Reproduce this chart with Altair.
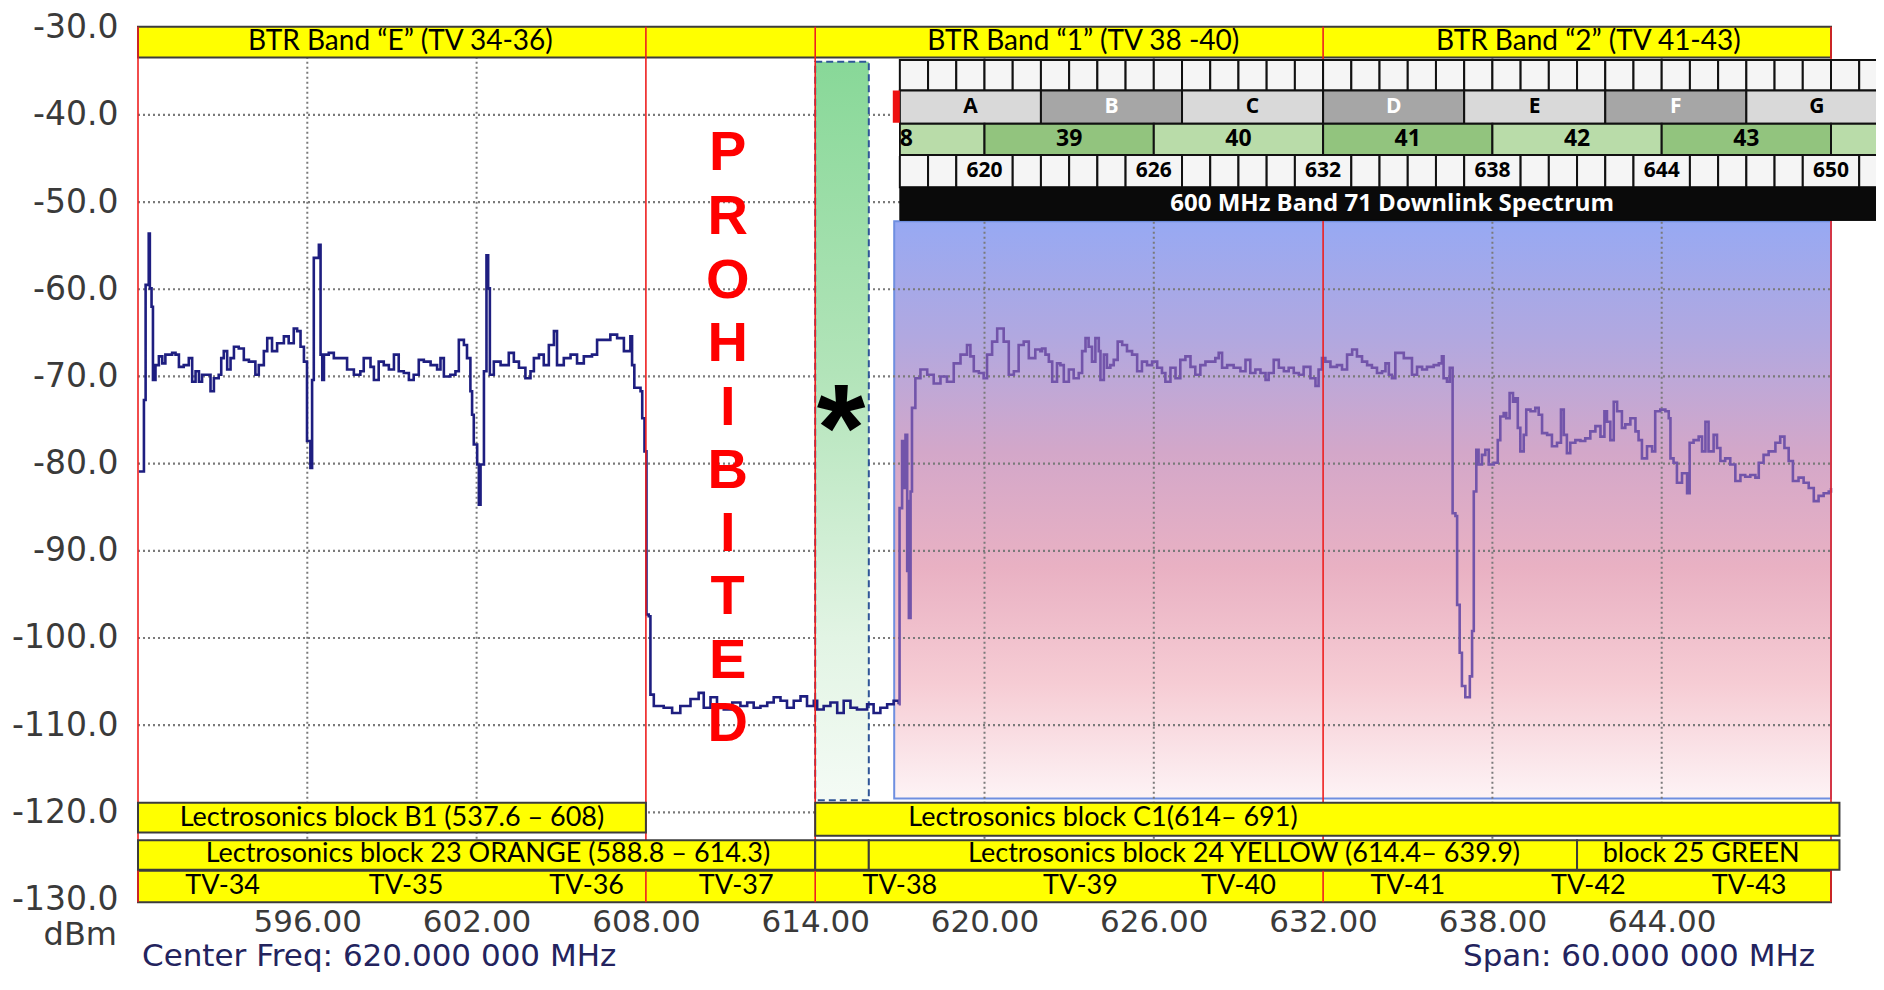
import altair as alt
import pandas as pd

# ---------------- data ----------------
# spectrum trace, MHz / dBm (navy part, left of the Band 71 overlay)
trace_main = [
    (590.03,-80.9),(590.18,-80.9),(590.21,-72.7),(590.27,-59.5),(590.38,-53.6),(590.42,-59.9),(590.48,-62.0),
    (590.53,-70.4),(590.62,-68.7),(590.74,-67.7),(590.86,-68.5),(590.97,-67.5),(591.21,-67.3),(591.33,-67.5),
    (591.45,-68.9),(591.62,-68.7),(591.80,-67.9),(591.92,-70.6),(592.04,-69.4),(592.16,-70.6),(592.27,-69.8),
    (592.45,-69.8),(592.57,-71.7),(592.69,-70.2),(592.86,-69.8),(592.95,-67.9),(593.04,-67.1),(593.16,-69.2),
    (593.28,-67.9),(593.40,-66.6),(593.57,-66.8),(593.75,-68.1),(593.93,-68.3),(594.16,-69.8),(594.28,-68.7),
    (594.46,-67.1),(594.58,-65.6),(594.75,-67.1),(594.93,-66.2),(595.17,-65.4),(595.34,-66.2),(595.52,-64.5),
    (595.64,-64.8),(595.76,-66.6),(595.88,-68.3),(595.99,-77.4),(596.11,-80.5),(596.17,-70.4),(596.23,-56.4),
    (596.35,-56.4),(596.41,-54.9),(596.47,-67.5),(596.53,-70.4),(596.59,-67.5),(596.76,-67.3),(596.94,-67.9),
    (597.18,-67.9),(597.41,-69.2),(597.65,-69.8),(597.88,-69.4),(598.00,-67.9),(598.24,-68.9),(598.36,-70.4),
    (598.53,-68.3),(598.71,-68.7),(598.89,-69.2),(599.07,-67.5),(599.24,-69.4),(599.42,-69.6),(599.60,-70.4),
    (599.77,-69.8),(599.95,-68.1),(600.13,-68.3),(600.37,-68.7),(600.60,-69.2),(600.72,-67.9),(600.84,-70.0),
    (601.07,-69.8),(601.25,-69.4),(601.37,-65.8),(601.55,-66.4),(601.66,-67.9),(601.78,-71.7),(601.84,-74.4),
    (601.90,-77.8),(602.02,-80.1),(602.08,-84.7),(602.14,-80.1),(602.26,-69.4),(602.35,-56.1),(602.41,-59.9),
    (602.47,-69.8),(602.61,-68.3),(602.85,-68.7),(603.14,-67.3),(603.32,-68.3),(603.50,-69.0),(603.73,-70.2),
    (603.91,-69.4),(604.03,-67.9),(604.21,-67.5),(604.38,-68.7),(604.56,-66.4),(604.74,-64.8),(604.85,-68.7),
    (605.09,-67.9),(605.33,-67.5),(605.56,-68.5),(605.80,-67.7),(606.09,-67.5),(606.27,-65.8),(606.51,-65.8),
    (606.74,-65.2),(606.98,-65.6),(607.22,-67.1),(607.45,-65.4),(607.51,-68.7),(607.59,-71.3),(607.81,-71.7),
    (607.87,-74.8),(607.95,-78.6),(608.02,-97.3),(608.10,-97.5),(608.16,-106.5),(608.28,-107.8),(608.63,-108.0),
    (608.93,-108.6),(609.22,-107.8),(609.58,-107.0),(609.87,-106.3),(610.05,-108.0),(610.29,-106.8),(610.52,-107.6),
    (610.76,-108.2),(611.06,-107.4),(611.35,-107.8),(611.59,-107.4),(611.82,-108.0),(612.06,-107.8),(612.30,-107.4),
    (612.53,-106.8),(612.77,-107.2),(613.00,-108.0),(613.24,-107.2),(613.48,-106.7),(613.71,-107.8),(613.95,-107.2),
    (614.07,-108.2),(614.30,-107.8),(614.54,-107.4),(614.78,-108.6),(615.01,-107.2),(615.25,-108.0),(615.48,-108.2),
    (615.84,-107.6),(616.07,-108.6),(616.31,-108.0),(616.55,-107.6),(616.78,-107.2),(616.96,-107.6),
]
# spectrum trace under the Band 71 overlay (drawn purple)
trace_band71 = [
    (616.96,-107.6),(616.99,-85.1),(617.08,-77.4),(617.14,-82.8),(617.20,-76.7),(617.26,-92.3),(617.28,-84.3),
    (617.32,-97.7),(617.38,-83.2),(617.43,-73.6),(617.55,-70.2),(617.73,-69.2),(617.97,-69.8),(618.20,-70.8),
    (618.44,-70.0),(618.67,-70.6),(618.91,-68.5),(619.15,-67.5),(619.38,-66.4),(619.50,-67.7),(619.62,-69.4),
    (619.80,-69.6),(619.97,-70.2),(620.09,-67.5),(620.27,-66.0),(620.45,-64.5),(620.68,-66.0),(620.86,-69.8),
    (621.04,-69.4),(621.21,-66.4),(621.39,-66.0),(621.57,-67.9),(621.80,-66.9),(621.98,-67.1),
    (622.04,-66.8),(622.16,-67.5),(622.28,-68.3),(622.40,-70.6),(622.57,-68.5),(622.69,-68.7),(622.81,-70.6),
    (622.99,-69.2),(623.16,-70.2),(623.34,-69.6),(623.46,-67.1),(623.58,-65.6),(623.69,-66.6),(623.81,-68.3),
    (623.93,-65.6),(624.05,-67.1),(624.11,-70.4),(624.23,-67.5),(624.34,-69.0),(624.46,-68.7),(624.58,-68.1),
    (624.72,-66.0),(624.88,-66.4),(625.05,-67.1),(625.23,-67.5),(625.41,-69.4),(625.58,-68.3),(625.76,-68.7),
    (625.94,-68.3),(626.12,-69.0),(626.29,-69.6),(626.41,-70.6),(626.59,-69.0),(626.77,-70.2),(626.94,-68.1),
    (627.12,-67.7),(627.30,-68.9),(627.47,-69.8),(627.65,-68.7),(627.83,-68.3),(628.01,-68.3),(628.18,-67.9),
    (628.30,-67.3),(628.42,-69.0),(628.60,-68.7),(628.83,-69.0),(629.07,-69.4),(629.25,-68.1),(629.42,-69.6),
    (629.60,-69.2),(629.78,-69.6),(629.96,-70.4),(630.07,-69.6),(630.25,-68.1),(630.43,-69.0),(630.61,-69.4),
    (630.78,-69.0),(630.96,-69.6),(631.14,-69.8),(631.31,-68.9),(631.55,-70.2),(631.73,-71.1),(631.84,-69.2),
    (631.96,-67.9),(632.08,-68.3),(632.26,-68.9),(632.49,-68.7),(632.67,-69.2),(632.85,-67.5),(633.03,-66.9),
    (633.20,-67.7),(633.38,-68.3),(633.56,-68.7),(633.73,-69.0),(633.91,-69.6),(634.09,-69.4),(634.21,-68.5),
    (634.33,-69.8),(634.44,-70.2),(634.56,-67.3),(634.74,-67.3),(634.86,-67.9),(635.03,-67.9),(635.15,-69.8),
    (635.33,-68.9),(635.51,-69.2),(635.68,-68.9),(635.92,-68.7),(636.10,-68.5),
    (636.21,-67.7),(636.27,-70.2),(636.39,-70.6),(636.49,-69.0),(636.57,-69.0),(636.59,-85.7),(636.69,-86.0),
    (636.75,-96.2),(636.84,-101.7),(636.92,-105.5),(637.04,-106.8),(637.12,-106.8),(637.20,-104.4),(637.28,-99.2),
    (637.34,-83.2),(637.43,-78.4),(637.51,-80.1),(637.63,-79.0),(637.75,-78.4),(637.87,-80.1),(638.05,-79.9),
    (638.19,-77.3),(638.28,-74.6),(638.40,-74.2),(638.49,-74.8),(638.61,-71.9),(638.73,-72.9),(638.81,-72.5),
    (638.90,-75.9),(638.99,-78.6),(639.11,-76.7),(639.20,-73.8),(639.35,-74.0),(639.52,-73.6),(639.64,-74.4),
    (639.76,-76.5),(639.94,-76.7),(640.11,-78.0),(640.29,-77.6),(640.43,-73.8),(640.53,-76.7),(640.64,-78.8),
    (640.76,-77.6),(640.94,-77.3),(641.12,-77.4),(641.29,-77.1),(641.47,-76.3),(641.65,-75.7),(641.83,-76.9),
    (641.97,-74.0),(642.06,-75.2),(642.18,-77.3),(642.30,-72.9),(642.42,-74.0),(642.59,-75.9),(642.71,-75.5),
    (642.89,-74.8),(643.07,-76.3),(643.18,-77.3),(643.30,-79.4),(643.48,-78.0),(643.66,-78.6),(643.77,-74.0),
    (643.95,-73.8),(644.13,-74.0),(644.25,-74.8),(644.31,-79.4),(644.42,-79.9),(644.54,-82.2),(644.72,-81.1),
    (644.90,-83.4),(644.99,-77.6),(645.13,-77.3),(645.31,-76.9),(645.43,-78.6),(645.55,-75.2),(645.66,-78.6),
    (645.84,-76.7),(645.96,-78.2),(646.08,-79.7),(646.25,-79.4),(646.43,-80.1),(646.61,-82.0),(646.79,-81.3),
    (646.96,-81.5),(647.14,-81.3),(647.32,-81.6),(647.44,-79.9),(647.61,-79.0),(647.79,-78.6),(648.03,-77.6),
    (648.20,-76.9),(648.35,-78.2),(648.50,-79.7),(648.65,-82.0),(648.85,-81.6),(649.03,-82.2),(649.21,-82.8),
    (649.39,-84.3),(649.56,-83.7),(649.74,-83.4),(649.92,-83.2),(650.00,-82.8),
]

x_ticks = [596, 602, 608, 614, 620, 626, 632, 638, 644]
y_ticks = [-30, -40, -50, -60, -70, -80, -90, -100, -110, -120, -130]
grid_h = [-40, -50, -60, -70, -80, -90, -100, -110, -120]
grid_v = [596, 602, 620, 626, 638, 644]
red_lines = [590, 608, 614, 632, 650]

# top BTR band
btr_labels = ["BTR Band “E” (TV 34-36)", "BTR Band “1” (TV 38 -40)", "BTR Band “2” (TV 41-43)"]
btr_centers = [599.3, 623.5, 641.4]

# bottom Lectrosonics rows
rowA_start = [590, 614]
rowA_end = [608, 650.3]
rowA_bottom = [-122.3, -122.7]
rowA_labels = ["Lectrosonics block B1 (537.6 – 608)", "Lectrosonics block C1(614– 691)"]
rowA_centers = [599.0, 624.2]

rowB_start = [590, 614, 615.9, 641.0]
rowB_end = [614, 615.9, 641.0, 650.3]
rowB_labels = ["Lectrosonics block 23 ORANGE (588.8 – 614.3)", "",
               "Lectrosonics block 24 YELLOW (614.4– 639.9)", "block 25 GREEN"]
rowB_centers = [602.4, 614.95, 629.2, 645.4]

tv_labels = ["TV-34", "TV-35", "TV-36", "TV-37", "TV-38", "TV-39", "TV-40", "TV-41", "TV-42", "TV-43"]
tv_centers = [593.0, 599.5, 605.9, 611.2, 617.0, 623.4, 629.0, 635.0, 641.4, 647.1]

# Band 71 overlay
row1_start = [617, 618, 619, 620, 621, 622, 623, 624, 625, 626, 627, 628, 629, 630, 631, 632, 633, 634,
              635, 636, 637, 638, 639, 640, 641, 642, 643, 644, 645, 646, 647, 648, 649, 650, 651]
block_names = ["A", "B", "C", "D", "E", "F", "G"]
block_start = [617, 622, 627, 632, 637, 642, 647]
block_end = [622, 627, 632, 637, 642, 647, 652]
block_fill = ["#d9d9d9", "#a6a6a6", "#d9d9d9", "#a6a6a6", "#d9d9d9", "#a6a6a6", "#d9d9d9"]
block_text = ["#000000", "#ffffff", "#000000", "#ffffff", "#000000", "#ffffff", "#000000"]
chan_start = [617, 620, 626, 632, 638, 644, 650]
chan_end = [620, 626, 632, 638, 644, 650, 652]
chan_fill = ["#b9dca9", "#92c47e", "#b9dca9", "#92c47e", "#b9dca9", "#92c47e", "#b9dca9"]
chan_labels = ["38", "39", "40", "41", "42", "43"]
chan_centers = [617, 623, 629, 635, 641, 647]
row4_start = [617, 618, 619, 621, 622, 623, 624, 625, 627, 628, 629, 630, 631, 633, 634, 635, 636, 637,
              639, 640, 641, 642, 643, 645, 646, 647, 648, 649, 651]
row4_end = [618, 619, 621, 622, 623, 624, 625, 627, 628, 629, 630, 631, 633, 634, 635, 636, 637, 639,
            640, 641, 642, 643, 645, 646, 647, 648, 649, 651, 652]
row4_labels = ["620", "626", "632", "638", "644", "650"]
row4_centers = [620, 626, 632, 638, 644, 650]
band71_title = "600 MHz Band 71 Downlink Spectrum"

prohibited = list("PROHIBITED")
prohibited_dbm = [-44.4, -51.7, -59.0, -66.3, -73.6, -80.9, -88.1, -95.3, -102.6, -109.9]

# ---------------- chart ----------------
W, H = 1693, 877
xs = alt.Scale(domain=[590, 650], nice=False, zero=False)
ys = alt.Scale(domain=[-130.4, -29.8], nice=False, zero=False)
x_axis = alt.Axis(values=x_ticks, format=".2f", domain=False, ticks=False, grid=False,
                  labelFontSize=31, labelPadding=4, labelOverlap=False, labelFlush=False, title=None)
y_axis = alt.Axis(values=y_ticks, labelExpr="'-' + format(abs(datum.value), '.1f')",
                  domain=False, ticks=False, grid=False, labelFontSize=33, labelPadding=20,
                  labelOverlap=False, title=None)


def X(f):
    return alt.X(f, type="quantitative", scale=xs, axis=x_axis)


def Y(f):
    return alt.Y(f, type="quantitative", scale=ys, axis=y_axis)


def rects(df, **mk):
    return alt.Chart(df).mark_rect(**mk).encode(x=X("x1"), x2="x2", y=Y("y1"), y2="y2")


LABEL_FONT = "Lato"
B71_FONT = "Open Sans"

# Band 71 gradient panel
grad71 = alt.Gradient(gradient="linear", x1=0, x2=0, y1=0, y2=1, stops=[
    alt.GradientStop(color="#97a9f3", offset=0),
    alt.GradientStop(color="#b1a8e0", offset=0.2),
    alt.GradientStop(color="#d3a7c9", offset=0.4),
    alt.GradientStop(color="#e9b1c3", offset=0.6),
    alt.GradientStop(color="#f6ccd4", offset=0.8),
    alt.GradientStop(color="#fdf3f5", offset=1),
])
panel71 = rects(pd.DataFrame({"x1": [616.8], "x2": [650], "y1": [-52.2], "y2": [-118.4]}),
                fill=grad71, stroke="#6f8fe0", strokeWidth=2)

hgrid = alt.Chart(pd.DataFrame({"y": grid_h, "x1": 590, "x2": 650})).mark_rule(
    color="#7a7a7a", strokeWidth=2.2, strokeDash=[2, 3]).encode(y=Y("y"), x=X("x1"), x2="x2")
vgrid = alt.Chart(pd.DataFrame({"x": grid_v, "y1": -29.9, "y2": -130.3})).mark_rule(
    color="#7a7a7a", strokeWidth=2, strokeDash=[2, 3]).encode(x=X("x"), y=Y("y1"), y2="y2")

grad_green = alt.Gradient(gradient="linear", x1=0, x2=0, y1=0, y2=1, stops=[
    alt.GradientStop(color="#88d898", offset=0),
    alt.GradientStop(color="#b2e4b9", offset=0.42),
    alt.GradientStop(color="#e2f4e4", offset=0.78),
    alt.GradientStop(color="#f4fbf5", offset=1),
])
green = rects(pd.DataFrame({"x1": [614], "x2": [615.9], "y1": [-33.9], "y2": [-118.6]}),
              fill=grad_green, stroke="#2f5597", strokeWidth=2, strokeDash=[7, 4])

line_main = alt.Chart(pd.DataFrame(trace_main, columns=["f", "d"])).mark_line(
    color="#1e1e80", strokeWidth=2.6, interpolate="step-after").encode(x=X("f"), y=Y("d"), order="f:Q")
line_71 = alt.Chart(pd.DataFrame(trace_band71, columns=["f", "d"])).mark_line(
    color="#7254aa", strokeWidth=2.6, interpolate="step-after").encode(x=X("f"), y=Y("d"), order="f:Q")

yellow = dict(fill="#ffff00", stroke="#3c3c3c", strokeWidth=2)
top_band = rects(pd.DataFrame({"x1": [590], "x2": [650], "y1": [-29.9], "y2": [-33.4]}), **yellow)
tv_band = rects(pd.DataFrame({"x1": [590], "x2": [650], "y1": [-126.7], "y2": [-130.3]}), **yellow)

reds = alt.Chart(pd.DataFrame({"x": red_lines, "y1": -29.9, "y2": -130.3})).mark_rule(
    color="#ee2020", strokeWidth=1.6).encode(x=X("x"), y=Y("y1"), y2="y2")

rowA = rects(pd.DataFrame({"x1": rowA_start, "x2": rowA_end, "y1": -118.9, "y2": rowA_bottom}), **yellow)
rowB = rects(pd.DataFrame({"x1": rowB_start, "x2": rowB_end, "y1": -123.2, "y2": -126.6}), **yellow)

cell = dict(stroke="#111111", strokeWidth=2)
row1 = rects(pd.DataFrame({"x1": row1_start, "x2": [s + 1 for s in row1_start], "y1": -33.7, "y2": -37.2}),
             fill="#f5f5f5", **cell)
row2 = alt.Chart(pd.DataFrame({"x1": block_start, "x2": block_end, "y1": -37.2, "y2": -41.0,
                               "c": block_fill})).mark_rect(**cell).encode(
    x=X("x1"), x2="x2", y=Y("y1"), y2="y2", fill=alt.Fill("c:N", scale=None))
red_mark = rects(pd.DataFrame({"x1": [616.75], "x2": [617.0], "y1": [-37.2], "y2": [-41.0]}), fill="#ee1111")
row3 = alt.Chart(pd.DataFrame({"x1": chan_start, "x2": chan_end, "y1": -41.0, "y2": -44.6,
                               "c": chan_fill})).mark_rect(**cell).encode(
    x=X("x1"), x2="x2", y=Y("y1"), y2="y2", fill=alt.Fill("c:N", scale=None))
row4 = rects(pd.DataFrame({"x1": row4_start, "x2": row4_end, "y1": -44.6, "y2": -48.3}),
             fill="#f5f5f5", **cell)
row5 = rects(pd.DataFrame({"x1": [617], "x2": [652], "y1": [-48.3], "y2": [-52.1]}),
             fill="#0a0a0a", stroke="#0a0a0a", strokeWidth=1)


def texts(labels, xs_, yv, size, font=LABEL_FONT, weight="normal", color="#000000", **kw):
    df = pd.DataFrame({"t": labels, "x": xs_, "y": yv})
    return alt.Chart(df).mark_text(font=font, fontSize=size, fontWeight=weight, color=color,
                                   baseline="middle", align="center", **kw).encode(
        x=X("x"), y=Y("y"), text="t:N")


btr_text = texts(btr_labels, btr_centers, -31.65, 28)
rowA_text = texts(rowA_labels, rowA_centers, -120.65, 27)
rowB_text = texts(rowB_labels, rowB_centers, -124.8, 27)
tv_text = texts(tv_labels, tv_centers, -128.5, 27)

row2_text = alt.Chart(pd.DataFrame({"t": block_names, "x": [(a + b) / 2 for a, b in zip(block_start, block_end)],
                                    "y": -39.1, "c": block_text})).mark_text(
    font=B71_FONT, fontSize=21, fontWeight="bold", baseline="middle").encode(
    x=X("x"), y=Y("y"), text="t:N", color=alt.Color("c:N", scale=None))
row3_text = texts(chan_labels, chan_centers, -42.8, 23, font=B71_FONT, weight="bold")
mask38 = rects(pd.DataFrame({"x1": [615.97], "x2": [616.97], "y1": [-40.9], "y2": [-44.7]}), fill="#ffffff")
row4_text = texts(row4_labels, row4_centers, -46.45, 21, font=B71_FONT, weight="bold")
row5_text = texts([band71_title], [634.45], -50.2, 24, font=B71_FONT, weight="bold", color="#ffffff")

prohib_text = texts(prohibited, [610.9] * len(prohibited), prohibited_dbm, 56,
                    font="Liberation Sans", weight="bold", color="#ff0000")
star = texts(["*"], [614.92], -73.75, 125, font="Liberation Sans", weight="bold", color="#000000", dy=24)

dbm_txt = alt.Chart(pd.DataFrame({"t": ["dBm"]})).mark_text(
    font="DejaVu Sans", fontSize=32, color="#3a3a3a", align="right", baseline="middle").encode(
    text="t:N", x=alt.value(-21), y=alt.value(909))
center_txt = alt.Chart(pd.DataFrame({"t": ["Center Freq: 620.000 000 MHz"]})).mark_text(
    font="DejaVu Sans", fontSize=31, color="#23235e", align="left", baseline="middle").encode(
    text="t:N", x=alt.value(4), y=alt.value(931))
span_txt = alt.Chart(pd.DataFrame({"t": ["Span: 60.000 000 MHz"]})).mark_text(
    font="DejaVu Sans", fontSize=31, color="#23235e", align="right", baseline="middle").encode(
    text="t:N", x=alt.value(1677), y=alt.value(931))

chart = alt.layer(
    panel71, hgrid, vgrid, green, line_main, line_71, top_band, tv_band, reds, rowA, rowB,
    row1, row2, red_mark, row3, row4, row5,
    btr_text, rowA_text, rowB_text, tv_text, row2_text, row3_text, mask38, row4_text, row5_text,
    prohib_text, star, dbm_txt, center_txt, span_txt,
).properties(
    width=W, height=H,
    autosize=alt.AutoSizeParams(type="none"),
    padding={"left": 130, "top": 18, "right": 45, "bottom": 73},
).configure_view(strokeWidth=0).configure_axis(
    labelFont="DejaVu Sans", labelColor="#3a3a3a"
)

chart.save("out.html", embed_options={"renderer": "svg", "actions": False})
